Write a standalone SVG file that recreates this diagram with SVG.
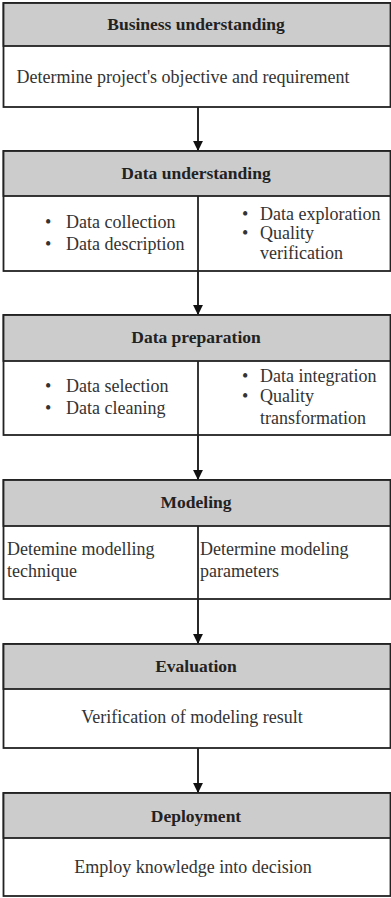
<svg xmlns="http://www.w3.org/2000/svg" width="391" height="898" viewBox="0 0 391 898">
<style>
.box{fill:#fff;stroke:#222;stroke-width:1.8}
.hdr{fill:#cccccc;stroke:#222;stroke-width:1.8}
.div{stroke:#222;stroke-width:1.8}
.h{font-size:17.5px;font-weight:bold;fill:#222;text-anchor:middle}
.t{font-size:18px;fill:#333}
.c{text-anchor:middle}
.conn{stroke:#111;stroke-width:1.8;fill:none;marker-end:url(#ah)}
</style>
<defs>
<marker id="ah" viewBox="0 0 10 10" refX="10" refY="5" markerWidth="5.5" markerHeight="5.5" orient="auto" markerUnits="strokeWidth">
<path d="M0,0 L10,5 L0,10 z" fill="#111"/>
</marker>
</defs>
<rect width="391" height="898" fill="#fff"/>
<g id="connectors">
<line class="conn" x1="198" y1="107" x2="198" y2="151"/>
<line class="conn" x1="198" y1="271" x2="198" y2="315"/>
<line class="conn" x1="198" y1="435" x2="198" y2="480"/>
<line class="conn" x1="198" y1="599" x2="198" y2="644"/>
<line class="conn" x1="198" y1="748" x2="198" y2="793"/>
</g>
<g font-family="Liberation Serif, serif">
<g id="business-understanding">
<rect class="box" x="3.5" y="3" width="387" height="104"/>
<rect class="hdr" x="3.5" y="3" width="387" height="43"/>
<text class="h" x="196" y="30">Business understanding</text>
<text class="t c" x="183" y="83">Determine project's objective and requirement</text>
</g>
<g id="data-understanding">
<rect class="box" x="3.5" y="151" width="387" height="120"/>
<rect class="hdr" x="3.5" y="151" width="387" height="45"/>
<text class="h" x="196" y="179">Data understanding</text>
<line class="div" x1="198" y1="196" x2="198" y2="271"/>
<text class="t" x="45" y="228">•</text><text class="t" x="66" y="228">Data collection</text>
<text class="t" x="45" y="250">•</text><text class="t" x="66" y="250">Data description</text>
<text class="t" x="242" y="220">•</text><text class="t" x="260" y="220">Data exploration</text>
<text class="t" x="242" y="239">•</text><text class="t" x="260" y="239">Quality</text>
<text class="t" x="260" y="259">verification</text>
</g>
<g id="data-preparation">
<rect class="box" x="3.5" y="315" width="387" height="120"/>
<rect class="hdr" x="3.5" y="315" width="387" height="46"/>
<text class="h" x="196" y="343">Data preparation</text>
<line class="div" x1="198" y1="361" x2="198" y2="435"/>
<text class="t" x="45" y="392">•</text><text class="t" x="66" y="392">Data selection</text>
<text class="t" x="45" y="414">•</text><text class="t" x="66" y="414">Data cleaning</text>
<text class="t" x="242" y="382">•</text><text class="t" x="260" y="382">Data integration</text>
<text class="t" x="242" y="402">•</text><text class="t" x="260" y="402">Quality</text>
<text class="t" x="260" y="424">transformation</text>
</g>
<g id="modeling">
<rect class="box" x="3.5" y="480" width="387" height="119"/>
<rect class="hdr" x="3.5" y="480" width="387" height="46"/>
<text class="h" x="196" y="508">Modeling</text>
<line class="div" x1="198" y1="526" x2="198" y2="599"/>
<text class="t" x="7" y="555">Detemine modelling</text>
<text class="t" x="7" y="577">technique</text>
<text class="t" x="200" y="555">Determine modeling</text>
<text class="t" x="200" y="577">parameters</text>
</g>
<g id="evaluation">
<rect class="box" x="3.5" y="644" width="387" height="104"/>
<rect class="hdr" x="3.5" y="644" width="387" height="45"/>
<text class="h" x="196" y="672">Evaluation</text>
<text class="t c" x="192" y="723">Verification of modeling result</text>
</g>
<g id="deployment">
<rect class="box" x="3.5" y="793" width="387" height="103"/>
<rect class="hdr" x="3.5" y="793" width="387" height="45"/>
<text class="h" x="196" y="822">Deployment</text>
<text class="t c" x="193" y="873">Employ knowledge into decision</text>
</g>
</g>
</svg>
